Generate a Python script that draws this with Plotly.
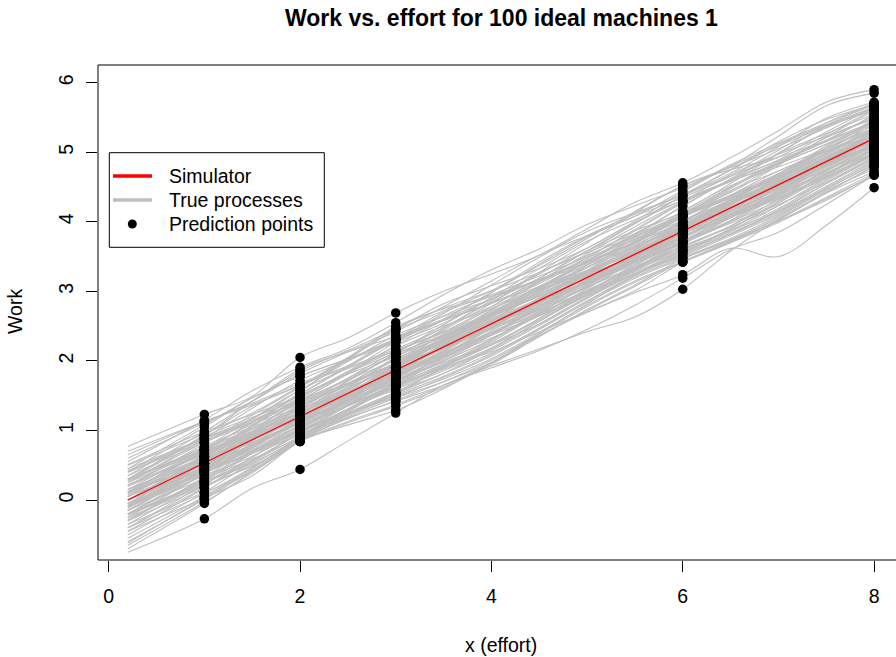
import plotly.graph_objects as go

# ---------------- data (read / estimated from the reference) ----------------
X_GRID = [0.2, 1.0, 1.5, 2.0, 2.5, 3.0, 3.5, 4.0, 4.5, 5.0, 5.5, 6.0, 6.5, 7.0, 7.5, 8.0]

SIMULATOR_X = [0.2, 8.0]
SIMULATOR_Y = [0.0, 5.2]

PRED_X = [1.0, 2.0, 3.0, 6.0, 8.0]

X_TICKS = [0, 2, 4, 6, 8]
Y_TICKS = [0, 1, 2, 3, 4, 5, 6]

TITLE = "Work vs. effort for 100 ideal machines 1"
X_LABEL = "x (effort)"
Y_LABEL = "Work"
LEGEND_LABELS = ["Simulator", "True processes", "Prediction points"]

TRUE_PROCESSES = [
    [-0.75, -0.27, 0.17, 0.44, 0.85, 1.25, 1.65, 1.90, 2.15, 2.45, 2.80, 3.19, 3.60, 3.85, 4.25, 4.67],
    [-0.40, 0.18, 0.57, 0.95, 1.18, 1.42, 1.65, 1.93, 2.17, 2.42, 2.63, 3.03, 3.58, 4.03, 4.42, 4.80],
    [-0.20, 0.23, 0.62, 1.00, 1.23, 1.52, 1.90, 2.13, 2.42, 2.70, 2.98, 3.24, 3.62, 3.50, 3.95, 4.49],
    [0.77, 1.23, 1.49, 2.05, 2.33, 2.69, 3.00, 3.25, 3.52, 3.90, 4.28, 4.56, 4.92, 5.31, 5.72, 5.90],
    [0.55, 1.15, 1.57, 1.91, 2.18, 2.55, 2.95, 3.31, 3.61, 3.96, 4.23, 4.49, 4.80, 5.23, 5.67, 5.85],
    [0.45, 1.08, 1.47, 1.78, 2.03, 2.29, 2.60, 2.98, 3.39, 3.78, 4.08, 4.35, 4.65, 5.03, 5.42, 5.70],
    [0.65, 1.13, 1.39, 1.68, 1.93, 2.32, 2.70, 2.95, 3.22, 3.50, 3.87, 4.27, 4.58, 4.83, 5.12, 5.42],
    [0.20, 0.81, 1.22, 1.62, 2.01, 2.32, 2.60, 2.99, 3.42, 3.80, 4.11, 4.39, 4.75, 5.15, 5.47, 5.68],
    [0.40, 0.88, 1.17, 1.58, 1.99, 2.37, 2.64, 2.89, 3.19, 3.58, 3.98, 4.37, 4.66, 4.93, 5.29, 5.65],
    [0.30, 0.93, 1.35, 1.65, 1.91, 2.17, 2.48, 2.87, 3.27, 3.56, 3.83, 4.22, 4.62, 4.98, 5.27, 5.55],
    [0.51, 0.98, 1.23, 1.50, 1.85, 2.27, 2.65, 2.93, 3.17, 3.45, 3.81, 4.23, 4.60, 4.88, 5.17, 5.54],
    [0.35, 0.83, 1.12, 1.52, 1.93, 2.31, 2.58, 2.83, 3.11, 3.48, 3.89, 4.29, 4.68, 4.97, 5.23, 5.50],
    [0.15, 0.75, 1.17, 1.58, 1.89, 2.15, 2.42, 2.78, 3.19, 3.58, 3.87, 4.13, 4.42, 4.81, 5.22, 5.60],
    [0.28, 0.73, 1.02, 1.42, 1.83, 2.21, 2.50, 2.75, 3.05, 3.44, 3.83, 4.15, 4.55, 4.98, 5.37, 5.65],
    [0.10, 0.71, 1.12, 1.50, 1.81, 2.07, 2.35, 2.73, 3.15, 3.52, 3.79, 4.07, 4.44, 4.83, 5.21, 5.48],
    [0.40, 0.85, 1.13, 1.44, 1.81, 2.22, 2.58, 2.83, 3.07, 3.35, 3.73, 4.15, 4.52, 4.79, 5.05, 5.40],
    [0.25, 0.83, 1.15, 1.40, 1.68, 2.05, 2.46, 2.85, 3.17, 3.42, 3.69, 4.07, 4.48, 4.83, 5.11, 5.38],
    [0.05, 0.65, 1.07, 1.46, 1.83, 2.15, 2.40, 2.67, 3.03, 3.42, 3.79, 4.11, 4.38, 4.68, 5.07, 5.48],
    [0.30, 0.75, 1.02, 1.32, 1.71, 2.11, 2.48, 2.78, 3.05, 3.34, 3.71, 4.12, 4.50, 4.85, 5.15, 5.42],
    [0.12, 0.71, 1.11, 1.42, 1.68, 1.97, 2.32, 2.73, 3.13, 3.48, 3.75, 4.02, 4.32, 4.69, 5.09, 5.46],
    [0.22, 0.68, 0.97, 1.34, 1.75, 2.13, 2.42, 2.68, 2.99, 3.38, 3.77, 4.09, 4.36, 4.65, 5.02, 5.40],
    [0.00, 0.61, 1.02, 1.42, 1.73, 2.01, 2.30, 2.67, 3.07, 3.42, 3.71, 3.99, 4.30, 4.67, 5.05, 5.35],
    [0.45, 0.88, 1.12, 1.38, 1.65, 1.97, 2.34, 2.71, 3.02, 3.30, 3.61, 3.99, 4.38, 4.73, 5.02, 5.30],
    [0.15, 0.63, 0.95, 1.32, 1.71, 2.09, 2.38, 2.65, 2.95, 3.30, 3.69, 4.07, 4.38, 4.65, 4.97, 5.34],
    [-0.05, 0.58, 0.99, 1.35, 1.65, 1.95, 2.30, 2.69, 3.07, 3.38, 3.65, 3.95, 4.30, 4.68, 5.05, 5.34],
    [-0.10, 0.53, 0.97, 1.38, 1.75, 2.07, 2.35, 2.63, 2.99, 3.38, 3.75, 4.07, 4.34, 4.63, 4.99, 5.36],
    [0.20, 0.67, 0.95, 1.26, 1.63, 2.02, 2.36, 2.65, 2.93, 3.24, 3.61, 4.01, 4.36, 4.65, 4.93, 5.28],
    [0.10, 0.68, 0.99, 1.26, 1.55, 1.92, 2.32, 2.69, 3.01, 3.28, 3.57, 3.93, 4.32, 4.69, 5.01, 5.30],
    [0.05, 0.53, 0.89, 1.28, 1.67, 2.03, 2.30, 2.57, 2.89, 3.26, 3.65, 4.01, 4.30, 4.59, 4.91, 5.28],
    [0.25, 0.71, 0.97, 1.24, 1.53, 1.89, 2.28, 2.65, 2.97, 3.26, 3.57, 3.95, 4.32, 4.63, 4.91, 5.22],
    [-0.08, 0.53, 0.93, 1.30, 1.61, 1.91, 2.22, 2.59, 2.99, 3.34, 3.63, 3.93, 4.24, 4.61, 4.99, 5.30],
    [0.10, 0.73, 1.09, 1.32, 1.53, 1.82, 2.25, 2.68, 3.05, 3.30, 3.53, 3.85, 4.28, 4.69, 5.01, 5.24],
    [0.00, 0.57, 0.95, 1.26, 1.55, 1.87, 2.24, 2.63, 2.99, 3.28, 3.57, 3.89, 4.26, 4.63, 4.95, 5.24],
    [0.15, 0.61, 0.89, 1.20, 1.57, 1.97, 2.32, 2.61, 2.89, 3.18, 3.55, 3.95, 4.30, 4.59, 4.89, 5.24],
    [-0.15, 0.45, 0.87, 1.28, 1.65, 1.97, 2.24, 2.53, 2.89, 3.28, 3.63, 3.93, 4.20, 4.51, 4.91, 5.30],
    [0.05, 0.63, 0.93, 1.20, 1.51, 1.89, 2.28, 2.63, 2.93, 3.22, 3.53, 3.91, 4.28, 4.59, 4.89, 5.20],
    [0.20, 0.65, 0.91, 1.18, 1.53, 1.93, 2.28, 2.57, 2.85, 3.16, 3.53, 3.93, 4.28, 4.57, 4.85, 5.15],
    [-0.05, 0.53, 0.91, 1.22, 1.51, 1.83, 2.20, 2.59, 2.95, 3.24, 3.51, 3.83, 4.20, 4.57, 4.93, 5.22],
    [0.08, 0.55, 0.83, 1.14, 1.53, 1.95, 2.30, 2.57, 2.85, 3.16, 3.55, 3.95, 4.26, 4.53, 4.83, 5.20],
    [0.00, 0.49, 0.85, 1.24, 1.61, 1.93, 2.20, 2.49, 2.85, 3.24, 3.59, 3.89, 4.16, 4.47, 4.87, 5.26],
    [0.30, 0.71, 0.93, 1.16, 1.45, 1.83, 2.22, 2.57, 2.87, 3.14, 3.45, 3.85, 4.24, 4.59, 4.89, 5.16],
    [-0.20, 0.43, 0.87, 1.26, 1.57, 1.85, 2.14, 2.51, 2.91, 3.28, 3.57, 3.85, 4.14, 4.49, 4.89, 5.26],
    [0.10, 0.59, 0.87, 1.16, 1.51, 1.91, 2.26, 2.55, 2.83, 3.14, 3.51, 3.91, 4.26, 4.55, 4.85, 5.16],
    [-0.08, 0.49, 0.89, 1.26, 1.55, 1.81, 2.10, 2.47, 2.89, 3.26, 3.55, 3.83, 4.12, 4.49, 4.89, 5.24],
    [0.00, 0.47, 0.77, 1.14, 1.53, 1.91, 2.20, 2.47, 2.79, 3.16, 3.55, 3.91, 4.20, 4.49, 4.81, 5.18],
    [0.15, 0.58, 0.82, 1.10, 1.45, 1.85, 2.22, 2.53, 2.81, 3.10, 3.47, 3.87, 4.22, 4.51, 4.81, 5.12],
    [-0.15, 0.45, 0.85, 1.20, 1.49, 1.79, 2.14, 2.53, 2.89, 3.18, 3.45, 3.77, 4.16, 4.55, 4.87, 5.14],
    [-0.05, 0.53, 0.89, 1.16, 1.43, 1.75, 2.14, 2.53, 2.85, 3.12, 3.43, 3.81, 4.20, 4.55, 4.83, 5.12],
    [0.05, 0.51, 0.79, 1.10, 1.47, 1.87, 2.18, 2.45, 2.75, 3.10, 3.49, 3.87, 4.16, 4.43, 4.77, 5.14],
    [-0.25, 0.38, 0.81, 1.20, 1.51, 1.79, 2.08, 2.43, 2.83, 3.20, 3.49, 3.77, 4.08, 4.45, 4.85, 5.20],
    [-0.10, 0.39, 0.75, 1.14, 1.51, 1.83, 2.10, 2.39, 2.75, 3.14, 3.49, 3.79, 4.08, 4.43, 4.83, 5.18],
    [0.10, 0.53, 0.79, 1.06, 1.37, 1.77, 2.16, 2.51, 2.79, 3.06, 3.37, 3.77, 4.16, 4.51, 4.81, 5.08],
    [-0.15, 0.43, 0.81, 1.12, 1.39, 1.71, 2.08, 2.47, 2.83, 3.12, 3.39, 3.71, 4.08, 4.45, 4.81, 5.10],
    [-0.05, 0.41, 0.69, 1.04, 1.43, 1.81, 2.12, 2.39, 2.71, 3.08, 3.47, 3.83, 4.10, 4.37, 4.73, 5.12],
    [-0.30, 0.33, 0.77, 1.16, 1.47, 1.75, 2.04, 2.39, 2.79, 3.14, 3.43, 3.71, 4.02, 4.41, 4.81, 5.12],
    [0.00, 0.45, 0.71, 1.00, 1.37, 1.77, 2.12, 2.41, 2.69, 3.00, 3.39, 3.79, 4.12, 4.39, 4.69, 5.04],
    [-0.20, 0.37, 0.77, 1.12, 1.41, 1.69, 2.00, 2.37, 2.77, 3.12, 3.41, 3.69, 4.00, 4.37, 4.75, 5.10],
    [-0.08, 0.39, 0.67, 1.02, 1.41, 1.77, 2.06, 2.33, 2.65, 3.04, 3.43, 3.79, 4.08, 4.35, 4.67, 5.04],
    [-0.35, 0.27, 0.69, 1.08, 1.43, 1.73, 2.00, 2.31, 2.69, 3.08, 3.43, 3.73, 4.00, 4.31, 4.69, 5.06],
    [-0.15, 0.43, 0.73, 1.00, 1.29, 1.65, 2.04, 2.41, 2.73, 3.00, 3.29, 3.67, 4.06, 4.41, 4.71, 4.98],
    [0.00, 0.43, 0.67, 0.94, 1.29, 1.69, 2.06, 2.37, 2.65, 2.94, 3.31, 3.71, 4.06, 4.35, 4.65, 5.00],
    [-0.28, 0.31, 0.71, 1.06, 1.35, 1.63, 1.94, 2.31, 2.71, 3.06, 3.35, 3.63, 3.94, 4.33, 4.73, 5.04],
    [-0.10, 0.35, 0.63, 0.98, 1.37, 1.71, 1.98, 2.25, 2.61, 3.00, 3.35, 3.65, 3.94, 4.29, 4.69, 5.06],
    [-0.40, 0.23, 0.67, 1.06, 1.37, 1.63, 1.92, 2.27, 2.67, 3.02, 3.31, 3.59, 3.90, 4.29, 4.69, 5.00],
    [-0.20, 0.27, 0.57, 0.96, 1.35, 1.67, 1.94, 2.23, 2.59, 2.98, 3.35, 3.65, 3.92, 4.23, 4.61, 4.98],
    [-0.15, 0.31, 0.59, 0.90, 1.27, 1.65, 1.96, 2.23, 2.53, 2.90, 3.31, 3.69, 3.98, 4.25, 4.57, 4.94],
    [-0.45, 0.17, 0.61, 1.02, 1.37, 1.65, 1.92, 2.23, 2.61, 3.00, 3.33, 3.61, 3.88, 4.23, 4.63, 4.98],
    [-0.22, 0.25, 0.55, 0.92, 1.31, 1.63, 1.90, 2.19, 2.57, 2.96, 3.31, 3.59, 3.86, 4.19, 4.59, 4.96],
    [-0.30, 0.19, 0.51, 0.90, 1.29, 1.61, 1.88, 2.17, 2.53, 2.92, 3.27, 3.57, 3.84, 4.15, 4.55, 4.92],
    [-0.50, 0.11, 0.55, 0.96, 1.31, 1.59, 1.86, 2.15, 2.51, 2.90, 3.25, 3.55, 3.82, 4.13, 4.51, 4.88],
    [-0.25, 0.21, 0.49, 0.86, 1.25, 1.55, 1.82, 2.11, 2.47, 2.86, 3.23, 3.51, 3.80, 4.11, 4.49, 4.86],
    [-0.40, 0.09, 0.47, 0.88, 1.23, 1.51, 1.78, 2.09, 2.47, 2.86, 3.21, 3.49, 3.76, 4.09, 4.47, 4.82],
    [-0.55, 0.05, 0.47, 0.86, 1.19, 1.47, 1.76, 2.07, 2.45, 2.84, 3.19, 3.47, 3.74, 4.05, 4.43, 4.80],
    [-0.35, 0.11, 0.41, 0.84, 1.21, 1.49, 1.74, 2.03, 2.41, 2.80, 3.15, 3.43, 3.72, 4.07, 4.45, 4.76],
    [-0.60, 0.01, 0.43, 0.86, 1.17, 1.43, 1.70, 2.01, 2.39, 2.78, 3.13, 3.42, 3.70, 4.03, 4.41, 4.72],
    [-0.45, 0.03, 0.35, 0.84, 1.13, 1.37, 1.65, 1.97, 2.35, 2.74, 3.09, 3.47, 3.74, 4.01, 4.35, 4.70],
    [-0.65, -0.03, 0.39, 0.84, 1.11, 1.35, 1.62, 1.95, 2.35, 2.72, 3.07, 3.43, 3.70, 3.99, 4.33, 4.67],
    [-0.70, -0.05, 0.41, 0.85, 1.08, 1.29, 1.60, 1.97, 2.37, 2.70, 3.01, 3.42, 3.72, 4.01, 4.31, 4.68],
    [0.60, 1.11, 1.42, 1.82, 2.13, 2.42, 2.78, 3.15, 3.52, 3.80, 4.08, 4.45, 4.82, 5.13, 5.42, 5.70],
    [0.35, 0.98, 1.42, 1.85, 2.15, 2.45, 2.72, 3.01, 3.37, 3.76, 4.15, 4.52, 4.78, 5.05, 5.35, 5.65],
    [0.70, 1.13, 1.37, 1.65, 2.03, 2.45, 2.82, 3.08, 3.33, 3.62, 4.01, 4.43, 4.80, 5.09, 5.37, 5.60],
    [0.40, 1.05, 1.47, 1.78, 2.03, 2.31, 2.68, 3.09, 3.49, 3.86, 4.13, 4.39, 4.70, 5.08, 5.49, 5.72],
    [0.50, 0.95, 1.25, 1.64, 2.05, 2.47, 2.76, 3.01, 3.27, 3.58, 3.97, 4.37, 4.74, 5.11, 5.39, 5.62],
    [0.25, 0.88, 1.32, 1.72, 2.01, 2.27, 2.54, 2.91, 3.33, 3.72, 4.03, 4.31, 4.60, 4.99, 5.39, 5.68],
    [0.30, 0.91, 1.19, 1.44, 1.73, 2.11, 2.52, 2.89, 3.17, 3.42, 3.71, 4.09, 4.50, 4.87, 5.17, 5.44],
    [0.00, 0.63, 1.05, 1.48, 1.83, 2.11, 2.36, 2.65, 3.03, 3.44, 3.81, 4.09, 4.34, 4.65, 5.05, 5.44],
    [0.20, 0.77, 1.05, 1.30, 1.59, 1.97, 2.38, 2.75, 3.03, 3.28, 3.59, 3.99, 4.38, 4.69, 4.97, 5.28],
    [-0.12, 0.49, 0.91, 1.32, 1.67, 1.95, 2.20, 2.49, 2.89, 3.30, 3.67, 3.97, 4.22, 4.51, 4.91, 5.30],
    [0.12, 0.57, 0.83, 1.12, 1.49, 1.91, 2.28, 2.59, 2.87, 3.14, 3.47, 3.87, 4.26, 4.61, 4.91, 5.18],
    [-0.10, 0.47, 0.87, 1.22, 1.49, 1.77, 2.10, 2.49, 2.89, 3.24, 3.51, 3.79, 4.10, 4.49, 4.89, 5.20],
    [0.00, 0.47, 0.75, 1.06, 1.43, 1.83, 2.18, 2.47, 2.75, 3.06, 3.43, 3.83, 4.18, 4.47, 4.75, 5.08],
    [-0.20, 0.39, 0.79, 1.14, 1.43, 1.71, 2.02, 2.39, 2.79, 3.14, 3.43, 3.71, 4.02, 4.39, 4.79, 5.12],
    [-0.05, 0.41, 0.69, 0.98, 1.31, 1.69, 2.06, 2.37, 2.65, 2.96, 3.33, 3.73, 4.06, 4.33, 4.63, 4.98],
    [-0.30, 0.29, 0.67, 0.98, 1.25, 1.55, 1.90, 2.29, 2.67, 2.98, 3.25, 3.55, 3.90, 4.27, 4.65, 4.96],
    [-0.20, 0.25, 0.53, 0.88, 1.23, 1.53, 1.82, 2.17, 2.57, 2.94, 3.25, 3.53, 3.82, 4.17, 4.55, 4.90],
    [0.42, 0.89, 1.17, 1.52, 1.91, 2.29, 2.58, 2.83, 3.15, 3.54, 3.93, 4.29, 4.58, 4.85, 5.17, 5.54],
    [0.28, 0.93, 1.42, 1.88, 2.13, 2.35, 2.60, 2.89, 3.25, 3.62, 3.99, 4.31, 4.60, 4.89, 5.25, 5.62],
    [0.00, 0.61, 1.07, 1.55, 2.03, 2.49, 2.75, 2.93, 3.15, 3.40, 3.71, 4.09, 4.45, 4.73, 5.02, 5.32],
    [-0.62, 0.03, 0.45, 0.90, 1.25, 1.47, 1.70, 1.98, 2.39, 2.82, 3.23, 3.59, 3.88, 4.15, 4.47, 4.84],
    [0.10, 0.53, 0.77, 1.15, 1.61, 2.05, 2.44, 2.83, 3.27, 3.70, 4.13, 4.52, 4.75, 4.93, 5.17, 5.40],
]

# ---------------- layout geometry (pixels) ----------------
W, H = 896, 657
ML, MR, MT, MB = 98, 0, 65, 97
PW, PH = W - ML - MR, H - MT - MB
PLOT_BOTTOM = MT + PH

FONT = "Liberation Sans, Arial, Helvetica, sans-serif"
GRAY = "#BEBEBE"


def paper_x(px):
    return (px - ML) / PW


def paper_y(py):
    return (PLOT_BOTTOM - py) / PH


fig = go.Figure()

# true processes (one trace, curves separated by gaps)
gx, gy = [], []
for curve in TRUE_PROCESSES:
    gx.extend(X_GRID + [None])
    gy.extend(curve + [None])
fig.add_trace(go.Scatter(x=gx, y=gy, mode="lines",
                         line=dict(color=GRAY, width=1.1, shape="spline", smoothing=1.0),
                         connectgaps=False, hoverinfo="skip", showlegend=False))

# simulator
fig.add_trace(go.Scatter(x=SIMULATOR_X, y=SIMULATOR_Y, mode="lines",
                         line=dict(color="#FF0000", width=1.3), showlegend=False))

# prediction points
for xp in PRED_X:
    idx = X_GRID.index(xp)
    ys = [c[idx] for c in TRUE_PROCESSES]
    fig.add_trace(go.Scatter(x=[xp] * len(ys), y=ys, mode="markers",
                             marker=dict(color="black", size=9.5, line=dict(width=0)),
                             showlegend=False))

shapes = []
# plot box (right side lies beyond the window, like the reference)
shapes.append(dict(type="rect", xref="paper", yref="paper", x0=0, x1=1.02, y0=0, y1=1,
                   line=dict(color="black", width=1), fillcolor="rgba(0,0,0,0)", layer="above"))
# legend box
shapes.append(dict(type="rect", xref="paper", yref="paper",
                   x0=paper_x(109.3), x1=paper_x(324.3), y0=paper_y(247.3), y1=paper_y(152.7),
                   line=dict(color="black", width=1), fillcolor="white", layer="above"))
shapes.append(dict(type="line", xref="paper", yref="paper",
                   x0=paper_x(113), x1=paper_x(152), y0=paper_y(176), y1=paper_y(176),
                   line=dict(color="#FF0000", width=3.6), layer="above"))
shapes.append(dict(type="line", xref="paper", yref="paper",
                   x0=paper_x(113), x1=paper_x(152), y0=paper_y(200), y1=paper_y(200),
                   line=dict(color=GRAY, width=3.6), layer="above"))
shapes.append(dict(type="circle", xref="paper", yref="paper", xsizemode="pixel", ysizemode="pixel",
                   xanchor=paper_x(132.3), yanchor=paper_y(224), x0=-4.5, x1=4.5, y0=-4.5, y1=4.5,
                   fillcolor="black", line=dict(width=0), layer="above"))

annotations = []
for lbl, py in zip(LEGEND_LABELS, [176, 200, 224]):
    annotations.append(dict(text=lbl, xref="paper", yref="paper", x=paper_x(167), y=paper_y(py),
                            xanchor="left", yanchor="middle", showarrow=False,
                            font=dict(family=FONT, size=19.5, color="black")))
annotations.append(dict(text="<b>" + TITLE + "</b>", xref="paper", yref="paper",
                        x=paper_x(501), y=paper_y(18), xanchor="center", yanchor="middle",
                        showarrow=False, font=dict(family=FONT, size=23, color="black")))
annotations.append(dict(text=X_LABEL, xref="paper", yref="paper",
                        x=paper_x(501), y=paper_y(645), xanchor="center", yanchor="middle",
                        showarrow=False, font=dict(family=FONT, size=19.5, color="black")))
annotations.append(dict(text=Y_LABEL, xref="paper", yref="paper", textangle=-90,
                        x=paper_x(15), y=paper_y(312), xanchor="center", yanchor="middle",
                        showarrow=False, font=dict(family=FONT, size=19.5, color="black")))

fig.update_layout(
    width=W, height=H,
    margin=dict(l=ML, r=MR, t=MT, b=MB, pad=0),
    paper_bgcolor="white", plot_bgcolor="white",
    showlegend=False,
    shapes=shapes, annotations=annotations,
    font=dict(family=FONT, size=19.5, color="black"),
    xaxis=dict(range=[-0.1118, 8.229], tickvals=X_TICKS, ticktext=[str(t) for t in X_TICKS],
               ticks="outside", ticklen=11, tickwidth=1, tickcolor="black",
               ticklabelstandoff=8,
               showgrid=False, zeroline=False, showline=False,
               tickfont=dict(family=FONT, size=19.5, color="black")),
    yaxis=dict(range=[-0.8627, 6.2545], tickvals=Y_TICKS, ticktext=[str(t) for t in Y_TICKS],
               ticks="outside", ticklen=11, tickwidth=1, tickcolor="black", tickangle=-90,
               ticklabelstandoff=5,
               showgrid=False, zeroline=False, showline=False,
               tickfont=dict(family=FONT, size=19.5, color="black")),
)

fig.write_html("out.html")
